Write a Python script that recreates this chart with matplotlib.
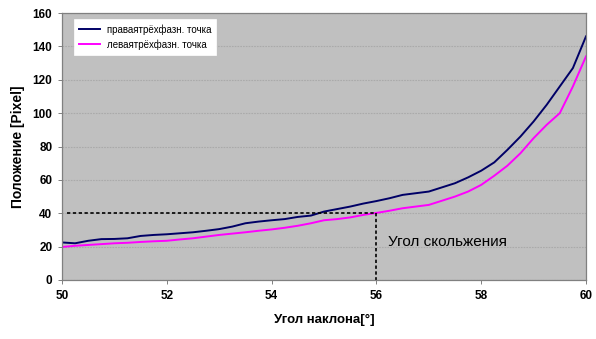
import matplotlib
matplotlib.use("Agg")
import matplotlib.pyplot as plt

# Tilt angle, degrees
angle = [50.0, 50.25, 50.5, 50.75, 51.0, 51.25, 51.5, 51.75, 52.0, 52.25,
         52.5, 52.75, 53.0, 53.25, 53.5, 53.75, 54.0, 54.25, 54.5, 54.75,
         55.0, 55.25, 55.5, 55.75, 56.0, 56.25, 56.5, 56.75, 57.0, 57.25,
         57.5, 57.75, 58.0, 58.25, 58.5, 58.75, 59.0, 59.25, 59.5, 59.75, 60.0]

# Position of the right three-phase point, pixels
right_point = [22.5, 22.0, 23.5, 24.5, 24.6, 25.0, 26.4, 27.0, 27.4, 28.0,
               28.6, 29.5, 30.5, 32.0, 34.0, 35.0, 35.8, 36.5, 37.8, 38.6,
               41.0, 42.5, 44.0, 45.8, 47.3, 49.0, 51.0, 52.0, 53.0, 55.5,
               58.0, 61.5, 65.5, 70.5, 78.0, 86.0, 95.0, 105.0, 116.0, 127.0, 146.0]

# Position of the left three-phase point, pixels
left_point = [19.8, 20.5, 21.0, 21.5, 22.0, 22.3, 22.8, 23.2, 23.5, 24.3,
              25.0, 26.0, 27.0, 27.8, 28.6, 29.5, 30.3, 31.3, 32.5, 34.0,
              35.8, 36.5, 37.5, 39.0, 40.2, 41.5, 43.0, 44.0, 45.0, 47.5,
              50.0, 53.0, 57.0, 62.5, 68.5, 76.0, 85.0, 93.0, 100.0, 116.0, 134.0]

series_names = ["праваятрёхфазн. точка", "леваятрёхфазн. точка"]

# Sliding-angle marker
slide_angle = 56.0
slide_position = 40.0
slide_label = "Угол скольжения"

x_ticks = [50, 52, 54, 56, 58, 60]
y_ticks = [0, 20, 40, 60, 80, 100, 120, 140, 160]

plt.rcParams["font.family"] = ["Liberation Sans", "DejaVu Sans"]

fig = plt.figure(figsize=(5.96, 3.39), dpi=100)
ax = fig.add_axes([62 / 596, 1 - 280 / 339, 524 / 596, 267 / 339])
ax.set_facecolor("#c0c0c0")

ax.set_xlim(50, 60)
ax.set_ylim(0, 160)
ax.set_xticks(x_ticks)
ax.set_yticks(y_ticks)
ax.yaxis.grid(True, color="#aaaaaa", linestyle=(0, (1.5, 1)), linewidth=0.8)
ax.set_axisbelow(True)

for sp in ax.spines.values():
    sp.set_color("#808080")
    sp.set_linewidth(0.9)

ax.tick_params(axis="both", direction="out", length=3, width=0.7,
               color="#808080", labelsize=8.5, pad=4)
for lab in ax.get_xticklabels() + ax.get_yticklabels():
    lab.set_fontweight("bold")

ax.plot(angle, right_point, color="#000066", lw=1.4, label=series_names[0])
ax.plot(angle, left_point, color="#ff00ff", lw=1.4, label=series_names[1])

# Dotted guides to the sliding angle
ax.plot([50.1, slide_angle], [slide_position, slide_position],
        color="black", lw=1.2, linestyle=(0, (2, 1.5)))
ax.plot([slide_angle, slide_angle], [slide_position, 0],
        color="black", lw=1.2, linestyle=(0, (2, 1.5)))
ax.text(slide_angle + 0.22, 22.8, slide_label, fontsize=11,
        ha="left", va="center", color="black")

ax.set_xlabel("Угол наклона[°]", fontsize=9.5, fontweight="bold", labelpad=9)
ax.set_ylabel("Положение [Pixel]", fontsize=10, fontweight="bold", labelpad=5)

leg = ax.legend(loc="upper left", bbox_to_anchor=(0.023, 0.976), fontsize=7,
                frameon=True, fancybox=False, framealpha=1, edgecolor="white",
                handlelength=2.2, handletextpad=0.7, borderpad=0.5,
                labelspacing=0.45, borderaxespad=0)
leg.get_frame().set_linewidth(0.5)

fig.savefig("out.png", dpi=100)
